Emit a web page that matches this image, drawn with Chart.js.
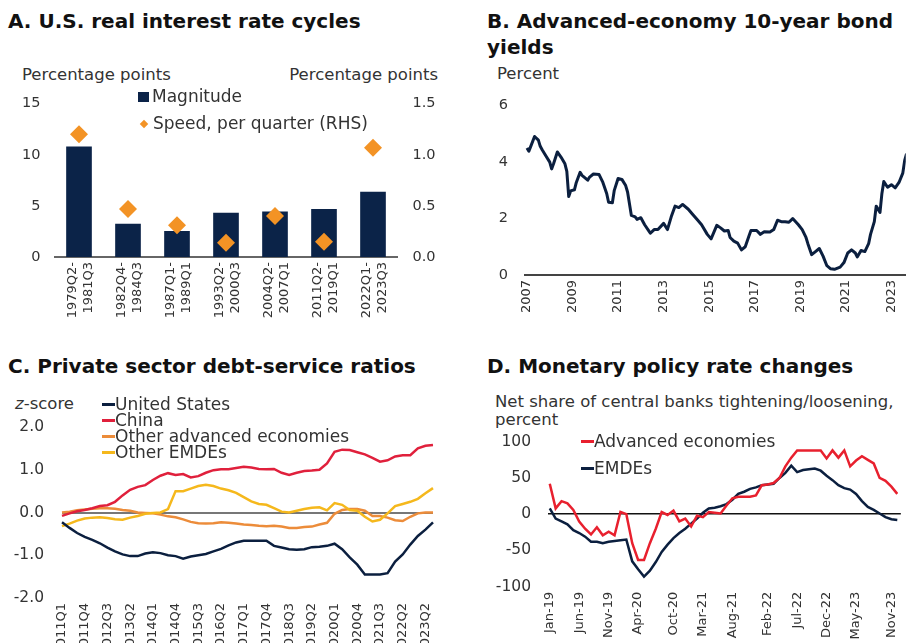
<!DOCTYPE html>
<html><head><meta charset="utf-8">
<script src="https://cdn.jsdelivr.net/npm/chart.js@4.4.0/dist/chart.umd.min.js"></script>
<style>
html,body{margin:0;padding:0;background:#fff;}
#wrap{position:relative;width:912px;height:643px;overflow:hidden;font-family:'DejaVu Sans',sans-serif;color:#333;background:#fff;}
canvas{position:absolute;}
.t{position:absolute;font-weight:bold;font-size:20px;line-height:26px;color:#111;white-space:nowrap;}
.u{position:absolute;font-size:16.5px;line-height:20px;white-space:nowrap;color:#333;}
.lg{position:absolute;font-size:17px;line-height:16px;white-space:nowrap;color:#333;}
.dash{display:inline-block;width:13px;height:3px;vertical-align:middle;margin-bottom:2px;}
</style></head>
<body>
<div id="wrap">
  <div class="t" style="left:8px;top:8px;">A. U.S. real interest rate cycles</div>
  <div class="t" style="left:487px;top:8px;">B. Advanced-economy 10-year bond<br>yields</div>
  <div class="t" style="left:8px;top:353px;">C. Private sector debt-service ratios</div>
  <div class="t" style="left:487px;top:353px;">D. Monetary policy rate changes</div>

  <div class="u" style="left:22px;top:65px;">Percentage points</div>
  <div class="u" style="right:474px;top:65px;text-align:right;">Percentage points</div>
  <div class="u" style="left:497px;top:64px;">Percent</div>
  <div class="u" style="left:15px;top:394px;"><i>z</i>-score</div>
  <div class="u" style="left:495px;top:393px;line-height:18px;">Net share of central banks tightening/loosening,<br>percent</div>

  <canvas id="cA" width="460" height="250" style="left:0;top:80px;"></canvas>
  <canvas id="cB" width="452" height="260" style="left:460px;top:80px;"></canvas>
  <canvas id="cC" width="460" height="300" style="left:0;top:380px;"></canvas>
  <canvas id="cD" width="452" height="300" style="left:460px;top:380px;"></canvas>

  <div class="lg" style="left:138px;top:87px;line-height:18px;"><span style="display:inline-block;width:11px;height:10px;background:#0b2348;margin-right:3px;"></span>Magnitude</div>
  <div class="lg" style="left:138px;top:114px;line-height:18px;"><span style="display:inline-block;width:6px;height:6px;background:#f39325;transform:rotate(45deg);margin:0 6px 2px 3px;"></span>Speed, per quarter (RHS)</div>

  <div class="lg" style="left:102px;top:396px;">
    <div><span class="dash" style="background:#0b1f3f;"></span>United States</div>
    <div><span class="dash" style="background:#e0203c;"></span>China</div>
    <div><span class="dash" style="background:#ec8c3a;"></span>Other advanced economies</div>
    <div><span class="dash" style="background:#f5b81c;"></span>Other EMDEs</div>
  </div>

  <div class="lg" style="left:581px;top:432px;line-height:18px;"><span class="dash" style="background:#e8202e;"></span>Advanced economies</div>
  <div class="lg" style="left:581px;top:459px;line-height:18px;"><span class="dash" style="background:#0b1f3f;"></span>EMDEs</div>
</div>
<script>
// ---------- Panel A ----------
const aCycleStart = ['1979Q2','1982Q4','1987Q1','1993Q2','2004Q2','2011Q2','2022Q1'];
const aCycleEnd   = ['1981Q3','1984Q3','1989Q1','2000Q3','2007Q1','2019Q1','2023Q3'];
const aMagnitude  = [10.77, 3.21, 2.5, 4.29, 4.41, 4.66, 6.36];
const aSpeed      = [1.20, 0.47, 0.31, 0.14, 0.40, 0.15, 1.07];

// ---------- Panel B ----------
const bDates = ['2007-01','2007-02','2007-03','2007-05','2007-07','2007-08','2007-09','2007-11','2008-01','2008-02',
 '2008-03','2008-05','2008-07','2008-09','2008-10','2008-11','2008-12','2009-02','2009-03','2009-05',
 '2009-06','2009-09','2009-10','2009-12','2010-03','2010-05','2010-07','2010-08','2010-10','2010-11',
 '2011-01','2011-03','2011-05','2011-06','2011-08','2011-10','2011-11','2012-01','2012-03','2012-05',
 '2012-06','2012-08','2012-10','2013-01','2013-03','2013-05','2013-07','2013-09','2013-11','2014-02',
 '2014-04','2014-07','2014-09','2014-12','2015-02','2015-05','2015-07','2015-09','2015-11','2015-12',
 '2016-02','2016-04','2016-06','2016-08','2016-10','2016-11','2017-02','2017-04','2017-06','2017-09',
 '2017-11','2018-01','2018-03','2018-05','2018-07','2018-09','2018-12','2019-02','2019-04','2019-05',
 '2019-07','2019-09','2019-11','2020-01','2020-03','2020-05','2020-07','2020-10','2020-12','2021-02',
 '2021-04','2021-06','2021-07','2021-09','2021-11','2022-01','2022-02','2022-04','2022-05','2022-07',
 '2022-08','2022-09','2022-11','2023-01','2023-03','2023-05','2023-07','2023-08','2023-09'];
const bYield = [4.50,4.39,4.56,4.91,4.78,4.56,4.44,4.22,4.00,3.76,
 3.94,4.36,4.17,3.94,3.67,2.78,2.98,3.02,3.28,3.64,
 3.53,3.36,3.47,3.58,3.56,3.28,2.89,2.58,2.56,3.00,
 3.42,3.39,3.17,2.94,2.11,2.06,1.97,2.03,1.78,1.58,
 1.48,1.61,1.61,1.83,1.61,2.06,2.44,2.39,2.50,2.33,
 2.17,1.94,1.78,1.44,1.28,1.76,1.67,1.56,1.58,1.33,
 1.20,1.13,0.89,1.00,1.39,1.58,1.58,1.44,1.53,1.52,
 1.61,1.94,1.89,1.89,1.87,2.00,1.78,1.61,1.33,1.11,
 0.72,0.83,0.94,0.67,0.33,0.22,0.20,0.28,0.44,0.78,
 0.89,0.78,0.64,0.87,0.83,1.11,1.44,1.89,2.44,2.22,
 2.89,3.31,3.11,3.20,3.09,3.28,3.61,4.06,4.30];
const bTickYears = [2007,2009,2011,2013,2015,2017,2019,2021,2023];

// ---------- Panel C ----------
const cQuarters = ['2011Q1','2011Q2','2011Q3','2011Q4','2012Q1','2012Q2','2012Q3','2012Q4','2013Q1','2013Q2',
 '2013Q3','2013Q4','2014Q1','2014Q2','2014Q3','2014Q4','2015Q1','2015Q2','2015Q3','2015Q4',
 '2016Q1','2016Q2','2016Q3','2016Q4','2017Q1','2017Q2','2017Q3','2017Q4','2018Q1','2018Q2',
 '2018Q3','2018Q4','2019Q1','2019Q2','2019Q3','2019Q4','2020Q1','2020Q2','2020Q3','2020Q4',
 '2021Q1','2021Q2','2021Q3','2021Q4','2022Q1','2022Q2','2022Q3','2022Q4','2023Q1','2023Q2'];
const cTickLabels = ['2011Q1','2011Q4','2012Q3','2013Q2','2014Q1','2014Q4','2015Q3','2016Q2','2017Q1',
 '2017Q4','2018Q3','2019Q2','2020Q1','2020Q4','2021Q3','2022Q2','2023Q2'];
const cUS = [-0.23,-0.36,-0.48,-0.57,-0.64,-0.72,-0.82,-0.91,-0.98,-1.02,
 -1.02,-0.96,-0.93,-0.95,-1.00,-1.02,-1.08,-1.03,-1.00,-0.97,
 -0.91,-0.85,-0.77,-0.70,-0.66,-0.66,-0.66,-0.66,-0.78,-0.82,
 -0.86,-0.87,-0.86,-0.81,-0.80,-0.78,-0.73,-0.86,-1.05,-1.22,
 -1.45,-1.45,-1.45,-1.42,-1.15,-0.98,-0.75,-0.55,-0.40,-0.23];
const cChina = [-0.08,-0.02,0.03,0.06,0.10,0.15,0.17,0.25,0.40,0.53,
 0.60,0.64,0.76,0.86,0.92,0.88,0.90,0.82,0.85,0.93,
 0.99,1.01,1.01,1.04,1.07,1.05,1.02,1.01,1.02,0.93,
 0.88,0.93,0.97,0.98,1.00,1.15,1.42,1.47,1.46,1.41,
 1.36,1.28,1.19,1.22,1.31,1.34,1.34,1.50,1.56,1.58];
const cOtherAE = [0.00,0.02,0.05,0.07,0.09,0.10,0.10,0.09,0.06,0.04,
 0.00,-0.01,-0.02,-0.05,-0.09,-0.11,-0.16,-0.22,-0.25,-0.26,
 -0.25,-0.23,-0.24,-0.26,-0.28,-0.29,-0.31,-0.32,-0.31,-0.33,
 -0.36,-0.36,-0.34,-0.33,-0.28,-0.24,-0.03,0.06,0.08,0.08,
 0.04,-0.08,-0.08,-0.12,-0.18,-0.20,-0.10,-0.02,0.00,0.00];
const cOtherEMDE = [-0.32,-0.26,-0.19,-0.14,-0.12,-0.11,-0.13,-0.16,-0.17,-0.12,
 -0.08,-0.03,-0.01,0.00,0.08,0.50,0.50,0.56,0.62,0.65,
 0.62,0.56,0.52,0.46,0.36,0.26,0.20,0.18,0.10,0.02,
 0.00,0.04,0.08,0.11,0.12,0.05,0.22,0.18,0.06,0.04,
 -0.10,-0.21,-0.17,-0.02,0.15,0.20,0.25,0.32,0.45,0.57];

// ---------- Panel D ----------
const dMonths = ['Jan-19','Feb-19','Mar-19','Apr-19','May-19','Jun-19','Jul-19','Aug-19','Sep-19','Oct-19','Nov-19','Dec-19',
 'Jan-20','Feb-20','Mar-20','Apr-20','May-20','Jun-20','Jul-20','Aug-20','Sep-20','Oct-20','Nov-20','Dec-20',
 'Jan-21','Feb-21','Mar-21','Apr-21','May-21','Jun-21','Jul-21','Aug-21','Sep-21','Oct-21','Nov-21','Dec-21',
 'Jan-22','Feb-22','Mar-22','Apr-22','May-22','Jun-22','Jul-22','Aug-22','Sep-22','Oct-22','Nov-22','Dec-22',
 'Jan-23','Feb-23','Mar-23','Apr-23','May-23','Jun-23','Jul-23','Aug-23','Sep-23','Oct-23','Nov-23','Dec-23'];
const dTickLabels = ['Jan-19','Jun-19','Nov-19','Apr-20','Oct-20','Mar-21','Aug-21','Feb-22','Jul-22','Dec-22','May-23','Nov-23'];
const dAdvanced = [42,8,18,15,6,-10,-20,-28,-18,-29,-24,-29,
 3,0,-40,-63,-63,-40,-20,3,-1,5,-10,-6,
 -17,-2,-4,3,2,1,12,22,24,24,24,26,
 40,41,43,50,66,78,88,88,88,88,88,77,
 88,78,88,66,74,80,75,70,50,46,38,28];
const dEMDE = [8,-6,-10,-14,-22,-26,-31,-38,-38,-40,-38,-37,
 -36,-35,-65,-76,-86,-78,-66,-52,-42,-33,-26,-20,
 -13,-6,2,8,9,11,14,20,28,31,35,37,
 40,41,42,50,57,67,58,61,62,63,60,53,
 47,40,36,34,28,18,10,6,1,-4,-7,-8];

// ---------- Styling ----------
const NAVY = '#0b2348', LINE_NAVY = '#0b1f3f', ORANGE_D = '#f39325';
Chart.defaults.font.family = "'DejaVu Sans', sans-serif";
Chart.defaults.color = '#333';
Chart.defaults.animation = false;
const noPlugins = {legend:{display:false}, tooltip:{enabled:false}};
const noGrid = {display:false, drawTicks:false};

// Panel A
new Chart(document.getElementById('cA'), {
  type: 'bar',
  data: {
    labels: aCycleStart.map((s,i) => [s + '-', aCycleEnd[i]]),
    datasets: [
      {type:'line', data:aSpeed, yAxisID:'y2', showLine:false, pointStyle:'rectRot', pointRadius:9,
       pointBackgroundColor:ORANGE_D, pointBorderColor:ORANGE_D, pointBorderWidth:0, order:0},
      {type:'bar', data:aMagnitude, yAxisID:'y', backgroundColor:NAVY, barThickness:25, order:1}
    ]
  },
  options: {
    responsive:false, devicePixelRatio:1,
    layout:{padding:{top:15,left:0,right:0,bottom:0}},
    plugins: noPlugins,
    scales: {
      x: {offset:true, grid:noGrid, border:{display:true,color:'#666',width:2},
          ticks:{maxRotation:90,minRotation:90,autoSkip:false,font:{size:13},padding:5,labelOffset:-6},
          afterFit(s){ s.height = 73; }},
      y: {position:'left', min:0, max:15, grid:noGrid, border:{display:false},
          ticks:{stepSize:5,padding:14,font:{size:14.5}}, afterFit(s){ s.width = 54.5; }},
      y2:{position:'right', min:0, max:1.5, grid:noGrid, border:{display:false},
          ticks:{stepSize:0.5,padding:15,font:{size:14.5},callback:v=>Number(v).toFixed(1)},
          afterFit(s){ s.width = 460 - 397.5; }}
    }
  }
});

// Panel B
const toDec = d => { const p = d.split('-'); return Number(p[0]) + (Number(p[1]) - 1) / 12; };
new Chart(document.getElementById('cB'), {
  type: 'line',
  data: { datasets: [{ data: bDates.map((d,i)=>({x:toDec(d), y:bYield[i]})), borderColor:LINE_NAVY,
    borderWidth:3, pointRadius:0, tension:0, borderJoinStyle:'round' }] },
  options: {
    responsive:false, devicePixelRatio:1,
    layout:{padding:{top:15,left:0,right:0,bottom:0}},
    plugins: noPlugins,
    scales: {
      x: {type:'linear', min:2006.9136, max:2023.631,
          afterBuildTicks(s){ s.ticks = bTickYears.map(v=>({value:v})); },
          grid:noGrid, border:{display:true,color:'#444',width:2},
          ticks:{callback:v=>String(v), maxRotation:90, minRotation:90, font:{size:13}, padding:5},
          afterFit(s){ s.height = 65; }},
      y: {min:0, max:6, grid:noGrid, border:{display:false},
          ticks:{stepSize:2,padding:17,font:{size:14.5}}, afterFit(s){ s.width = 65; }}
    }
  }
});

// Panel C
const cLine = (data, color) => ({data, borderColor:color, borderWidth:2.5, pointRadius:0, tension:0});
new Chart(document.getElementById('cC'), {
  type: 'line',
  data: { labels: cQuarters, datasets: [
    cLine(cUS, LINE_NAVY), cLine(cChina, '#e0203c'), cLine(cOtherEMDE, '#f5b81c'), cLine(cOtherAE, '#ec8c3a')
  ]},
  options: {
    responsive:false, devicePixelRatio:1,
    layout:{padding:{top:47,left:0,right:27,bottom:0}},
    plugins: noPlugins,
    scales: {
      x: {offset:false, grid:noGrid, border:{display:false},
          ticks:{autoSkip:false, maxRotation:90, minRotation:90, font:{size:13}, padding:5,
                 callback:(v,i)=> (i % 3 === 0 && cTickLabels[i/3]) ? cTickLabels[i/3] : null},
          afterFit(s){ s.height = 82; }},
      y: {min:-2, max:2, border:{display:false},
          grid:{drawTicks:false, lineWidth:2, color:c => c.tick && c.tick.value === 0 ? '#777' : 'rgba(0,0,0,0)'},
          ticks:{stepSize:1, padding:18, font:{size:15.5}, callback:v=>Number(v).toFixed(1)},
          afterFit(s){ s.width = 62; }}
    }
  }
});

// Panel D
const dIdx = dTickLabels.map(l => dMonths.indexOf(l));
const dLine = (data, color) => ({data: data.map((v,i)=>({x:i, y:v})), borderColor:color, borderWidth:2.5, pointRadius:0, tension:0});
new Chart(document.getElementById('cD'), {
  type: 'line',
  data: { datasets: [ dLine(dAdvanced, '#e8202e'), dLine(dEMDE, LINE_NAVY) ] },
  options: {
    responsive:false, devicePixelRatio:1,
    layout:{padding:{top:61.7,left:0,right:0,bottom:0}},
    plugins: noPlugins,
    scales: {
      x: {type:'linear', min:-0.3, max:59.6,
          afterBuildTicks(s){ s.ticks = dIdx.map(v=>({value:v})); },
          grid:noGrid, border:{display:false},
          ticks:{callback:v=>dMonths[v], maxRotation:90, minRotation:90, font:{size:13}, padding:5},
          afterFit(s){ s.height = 93.3; }},
      y: {min:-100, max:100, border:{display:false},
          grid:{drawTicks:false, lineWidth:1.5, color:c => c.tick && c.tick.value === 0 ? '#111' : 'rgba(0,0,0,0)'},
          ticks:{stepSize:50, padding:17, font:{size:15.5}},
          afterFit(s){ s.width = 88; }}
    }
  }
});
</script>
</body></html>
